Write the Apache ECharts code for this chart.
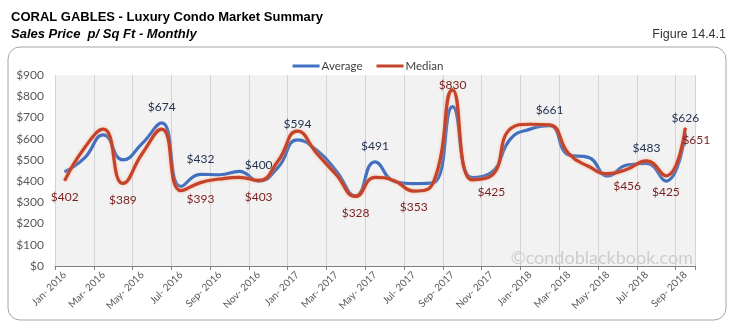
<!DOCTYPE html>
<html>
<head>
<meta charset="utf-8">
<script src="https://cdn.jsdelivr.net/npm/echarts@6/dist/echarts.min.js"></script>
<style>
html,body{margin:0;padding:0;background:#fff;}
#chart{width:736px;height:328px;}
</style>
</head>
<body>
<div id="chart"></div>
<script>
var categories = ["Jan- 2016","Feb- 2016","Mar- 2016","Apr- 2016","May- 2016","Jun- 2016","Jul- 2016","Aug- 2016","Sep- 2016","Oct- 2016","Nov- 2016","Dec- 2016",
  "Jan- 2017","Feb- 2017","Mar- 2017","Apr- 2017","May- 2017","Jun- 2017","Jul- 2017","Aug- 2017","Sep- 2017","Oct- 2017","Nov- 2017","Dec- 2017",
  "Jan- 2018","Feb- 2018","Mar- 2018","Apr- 2018","May- 2018","Jun- 2018","Jul- 2018","Aug- 2018","Sep- 2018"];
var average = [444, 507, 618, 500, 578, 674, 375, 432, 430, 446, 400, 465, 594, 545, 448, 330, 491, 398, 388, 392, 751, 416, 440, 600, 645, 661, 523, 512, 424, 476, 483, 400, 626];
var median  = [402, 554, 645, 389, 530, 645, 355, 393, 410, 418, 403, 495, 636, 530, 430, 328, 418, 402, 353, 392, 830, 406, 425, 648, 668, 665, 528, 470, 435, 456, 495, 425, 651];
var averageLabelIdx = [5, 7, 10, 12, 16, 25, 30, 32];
var medianLabelIdx = [0, 3, 7, 10, 15, 18, 20, 22, 29, 31, 32];
var yTicks = [0, 100, 200, 300, 400, 500, 600, 700, 800, 900];

var chart = echarts.init(document.getElementById('chart'), null, {renderer: 'canvas'});
var FONT = 'Lato';
var AVG_COLOR = '#4170C0';
var MED_COLOR = '#C5422B';

function avgData() {
  return average.map(function (v, i) {
    if (averageLabelIdx.indexOf(i) >= 0) {
      return {value: v, label: {show: true, position: 'top', distance: 9}};
    }
    return v;
  });
}
function medData() {
  return median.map(function (v, i) {
    if (medianLabelIdx.indexOf(i) >= 0) {
      var lab = {show: true, position: 'bottom', distance: 10};
      if (i === 20) { lab = {show: true, position: 'top', distance: -2}; }
      if (i === 32) { lab = {show: true, position: 'bottom', distance: 6, offset: [11, 0]}; }
      return {value: v, label: lab};
    }
    return v;
  });
}

var option = {
  animation: false,
  backgroundColor: '#ffffff',
  graphic: [
    {type: 'rect', shape: {x: 8, y: 47, width: 718, height: 273, r: 12},
     style: {fill: 'none', stroke: '#a6a6a6', lineWidth: 1}, z: 0},
    {type: 'text', left: 11, top: 11,
     style: {text: 'CORAL GABLES - Luxury Condo Market Summary', font: 'bold 13px "Liberation Sans", Arial, sans-serif', fill: '#000'}},
    {type: 'text', left: 11, top: 28,
     style: {text: 'Sales Price  p/ Sq Ft - Monthly', font: 'italic bold 13px "Liberation Sans", Arial, sans-serif', fill: '#000'}},
    {type: 'text', right: 10, top: 28,
     style: {text: 'Figure 14.4.1', font: '12.5px "Liberation Sans", Arial, sans-serif', fill: '#333'}},
    {type: 'text', x: 693, y: 267, z: 1,
     style: {text: '\u00a9condoblackbook.com', font: '18px Lato, sans-serif', fill: '#cdcdcd', align: 'right', verticalAlign: 'bottom'}}
  ],
  legend: {
    data: ['Average', 'Median'],
    left: 'center',
    top: 55,
    icon: 'rect',
    itemWidth: 27,
    itemHeight: 3,
    itemGap: 14,
    textStyle: {fontFamily: FONT, fontSize: 11.5, color: '#404040', padding: [0, 0, 0, -3]}
  },
  grid: {
    left: 55, right: 41, top: 75, bottom: 62,
    show: true, backgroundColor: '#f2f2f2', borderWidth: 0
  },
  xAxis: {
    type: 'category',
    data: categories,
    boundaryGap: true,
    axisLine: {show: true, lineStyle: {color: '#7f7f7f', width: 1}},
    axisTick: {show: true, interval: 1, length: 4, lineStyle: {color: '#7f7f7f'}},
    splitLine: {show: true, interval: 1, lineStyle: {color: '#d4d4d4', width: 1}},
    axisLabel: {interval: 1, rotate: 45, fontFamily: FONT, fontSize: 10, color: '#595959', margin: 7}
  },
  yAxis: {
    type: 'value',
    min: yTicks[0],
    max: yTicks[yTicks.length - 1],
    interval: 100,
    axisLine: {show: false},
    axisTick: {show: false},
    splitLine: {show: false},
    axisLabel: {formatter: '${value}', fontFamily: FONT, fontSize: 12, color: '#595959', margin: 11}
  },
  series: [
    {
      name: 'Average', type: 'line', data: avgData(), smooth: 0.5,
      symbol: 'circle', symbolSize: 1, showSymbol: true,
      itemStyle: {color: AVG_COLOR},
      lineStyle: {color: AVG_COLOR, width: 3.2},
      label: {show: false, formatter: function (p) { return '$' + p.value; }, fontFamily: FONT, fontSize: 12, color: '#253350'},
      z: 3
    },
    {
      name: 'Median', type: 'line', data: medData(), smooth: 0.5,
      symbol: 'circle', symbolSize: 1, showSymbol: true,
      itemStyle: {color: MED_COLOR},
      lineStyle: {color: MED_COLOR, width: 3.2, shadowColor: 'rgba(245,160,110,0.7)', shadowBlur: 3},
      label: {show: false, formatter: function (p) { return '$' + p.value; }, fontFamily: FONT, fontSize: 12, color: '#7a1e1e'},
      z: 4
    }
  ]
};
chart.setOption(option);
</script>
</body>
</html>
